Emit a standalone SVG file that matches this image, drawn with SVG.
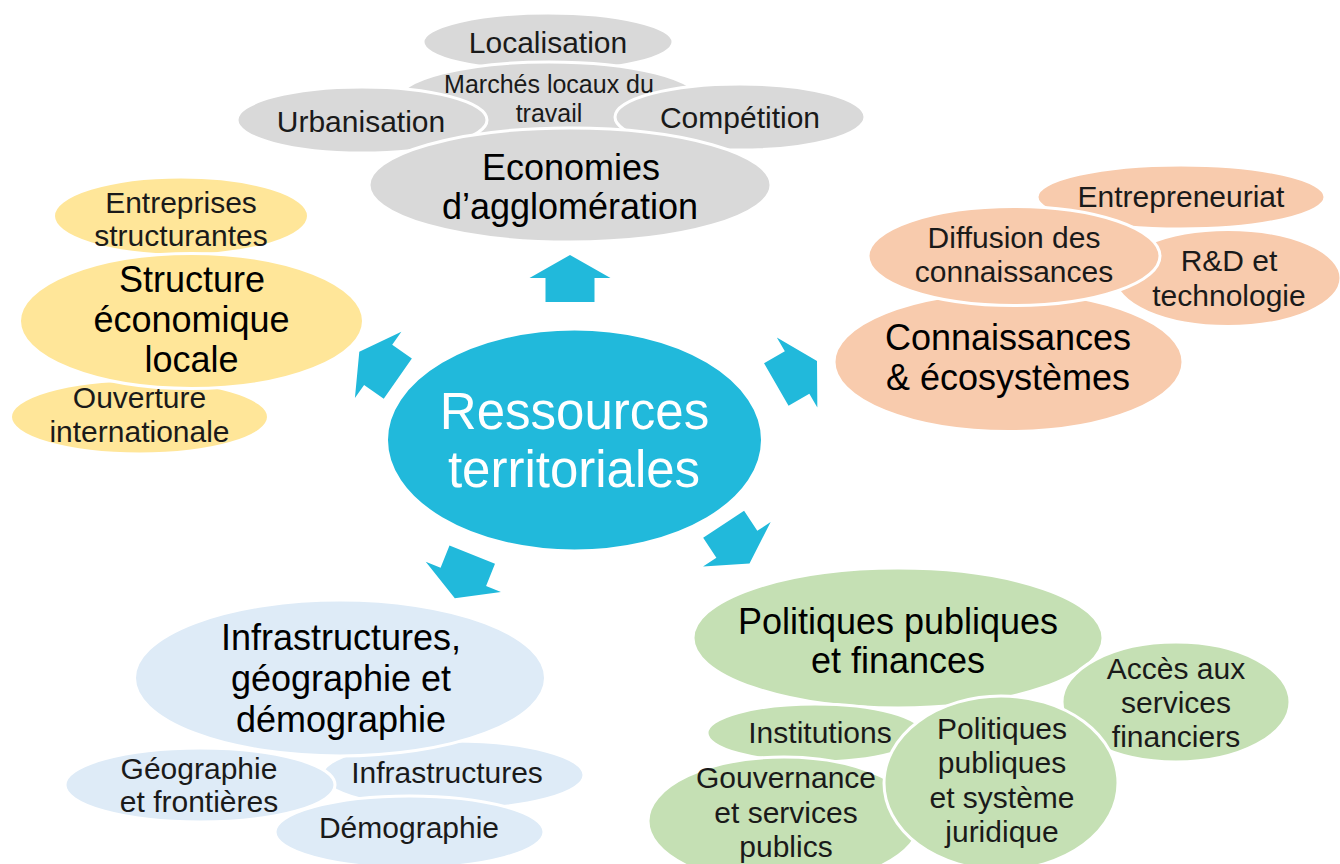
<svg xmlns="http://www.w3.org/2000/svg" width="1340" height="864" viewBox="0 0 1340 864">
<defs>
<style>
text { font-family: "Liberation Sans", Arial, sans-serif; text-anchor: middle; }
.sub { font-size: 30px; fill: #1a1a1a; }
.sm { font-size: 25px; fill: #1a1a1a; }
.hdr { font-size: 36px; fill: #000; }
.ctr { font-size: 51px; fill: #fff; }
ellipse { stroke: #fff; stroke-width: 3; }
.gray { fill: #d9d9d9; }
.yel { fill: #ffe699; }
.org { fill: #f8cbad; }
.blu { fill: #deebf7; }
.grn { fill: #c5e0b4; }
.arrow { fill: #21b9db; }
</style>
<path id="arr" d="M0,0 L40.5,23 L24.5,23 L24.5,47 L-24.5,47 L-24.5,23 L-40.5,23 Z"/>
</defs>
<rect width="1340" height="864" fill="#fff"/>

<g id="connectors" class="arrow">
<use href="#arr" transform="translate(570,255)"/>
<use href="#arr" transform="translate(359.3,351.7) rotate(-55)"/>
<use href="#arr" transform="translate(817,361) rotate(60)"/>
<use href="#arr" transform="translate(749.5,563.5) rotate(146.6)"/>
<use href="#arr" transform="translate(454.8,598.2) rotate(-158.2)"/>
</g>

<g id="center">
<ellipse cx="574.5" cy="440" rx="188" ry="111" fill="#21b9db" stroke="none"/>
<text class="ctr" x="574.5" y="429">Ressources</text>
<text class="ctr" x="574" y="487">territoriales</text>
</g>

<g id="localisation">
<ellipse class="gray" cx="548" cy="42" rx="125" ry="29"/>
<text class="sub" x="548" y="53">Localisation</text>
</g>
<g id="marches">
<ellipse class="gray" cx="549" cy="100" rx="151" ry="38"/>
<text class="sm" x="549" y="93">Marchés locaux du</text>
<text class="sm" x="549" y="122">travail</text>
</g>
<g id="urbanisation">
<ellipse class="gray" cx="362" cy="120" rx="125" ry="33"/>
<text class="sub" x="361" y="132">Urbanisation</text>
</g>
<g id="competition">
<ellipse class="gray" cx="740" cy="117" rx="125" ry="33"/>
<text class="sub" x="740" y="128">Compétition</text>
</g>
<g id="economies">
<ellipse class="gray" cx="570" cy="185" rx="201" ry="57"/>
<text class="hdr" x="571" y="180">Economies</text>
<text class="hdr" x="570" y="219">d’agglomération</text>
</g>

<g id="entreprises">
<ellipse class="yel" cx="181" cy="216" rx="127.5" ry="39"/>
<text class="sub" x="181" y="213">Entreprises</text>
<text class="sub" x="181" y="246">structurantes</text>
</g>
<g id="ouverture">
<ellipse class="yel" cx="139.5" cy="417" rx="129" ry="37"/>
<text class="sub" x="139.5" y="408">Ouverture</text>
<text class="sub" x="139.5" y="442">internationale</text>
</g>
<g id="structure">
<ellipse class="yel" cx="191.5" cy="321" rx="172" ry="67.5"/>
<text class="hdr" x="192" y="292">Structure</text>
<text class="hdr" x="191.5" y="332">économique</text>
<text class="hdr" x="191.5" y="372">locale</text>
</g>

<g id="entrepreneuriat">
<ellipse class="org" cx="1181" cy="197" rx="144" ry="32"/>
<text class="sub" x="1181" y="207">Entrepreneuriat</text>
</g>
<g id="rd">
<ellipse class="org" cx="1228" cy="278" rx="113" ry="48.5"/>
<text class="sub" x="1229" y="271">R&amp;D et</text>
<text class="sub" x="1229" y="306">technologie</text>
</g>
<g id="connaissances">
<ellipse class="org" cx="1008.5" cy="362" rx="174.5" ry="69.5"/>
<text class="hdr" x="1008" y="350">Connaissances</text>
<text class="hdr" x="1008" y="390">&amp; écosystèmes</text>
</g>
<g id="diffusion">
<ellipse class="org" cx="1014" cy="256" rx="146" ry="49.5"/>
<text class="sub" x="1014" y="248">Diffusion des</text>
<text class="sub" x="1014" y="282">connaissances</text>
</g>

<g id="infra-small">
<ellipse class="blu" cx="453" cy="775" rx="131" ry="34"/>
<text class="sub" x="447" y="783">Infrastructures</text>
</g>
<g id="demographie">
<ellipse class="blu" cx="409.5" cy="832" rx="134.5" ry="36"/>
<text class="sub" x="409" y="838">Démographie</text>
</g>
<g id="geographie">
<ellipse class="blu" cx="200" cy="785" rx="135" ry="37"/>
<text class="sub" x="199" y="779">Géographie</text>
<text class="sub" x="199" y="812">et frontières</text>
</g>
<g id="infrastructures">
<ellipse class="blu" cx="340" cy="678" rx="205.5" ry="78"/>
<text class="hdr" x="341" y="650">Infrastructures,</text>
<text class="hdr" x="341" y="691">géographie et</text>
<text class="hdr" x="341" y="732">démographie</text>
</g>

<g id="politiques">
<ellipse class="grn" cx="898" cy="638" rx="205" ry="70"/>
<text class="hdr" x="898" y="634">Politiques publiques</text>
<text class="hdr" x="898" y="673">et finances</text>
</g>
<g id="acces">
<ellipse class="grn" cx="1176" cy="702" rx="114" ry="60"/>
<text class="sub" x="1176" y="679">Accès aux</text>
<text class="sub" x="1176" y="713">services</text>
<text class="sub" x="1176" y="747">financiers</text>
</g>
<g id="institutions">
<ellipse class="grn" cx="815" cy="733" rx="108" ry="29"/>
<text class="sub" x="820" y="743">Institutions</text>
</g>
<g id="gouvernance">
<ellipse class="grn" cx="784" cy="821" rx="136" ry="64"/>
<text class="sub" x="786" y="788">Gouvernance</text>
<text class="sub" x="786" y="823">et services</text>
<text class="sub" x="786" y="857">publics</text>
</g>
<g id="juridique">
<ellipse class="grn" cx="1001" cy="783" rx="117" ry="87"/>
<text class="sub" x="1002" y="739">Politiques</text>
<text class="sub" x="1002" y="773">publiques</text>
<text class="sub" x="1002" y="808">et système</text>
<text class="sub" x="1002" y="842">juridique</text>
</g>
</svg>
